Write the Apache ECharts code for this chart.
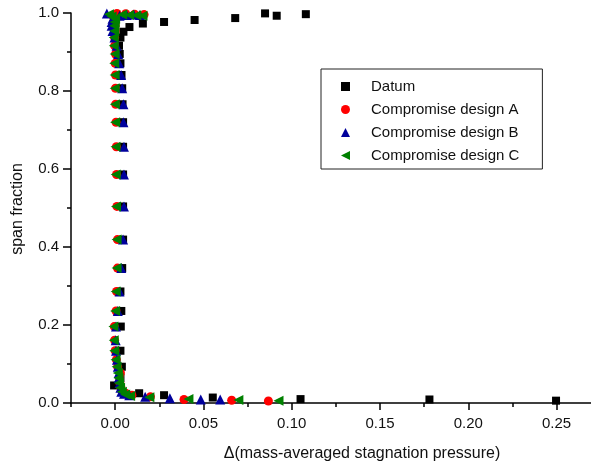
<!DOCTYPE html>
<html>
<head>
<meta charset="utf-8">
<title>Spanwise stagnation pressure difference</title>
<script src="https://cdn.jsdelivr.net/npm/echarts@6/dist/echarts.min.js"></script>
<style>
  html, body { margin: 0; padding: 0; background: #fff; }
  #chart { width: 591px; height: 467px; }
</style>
</head>
<body>
<div id="chart"></div>
<script>
// Spanwise profiles: span fraction vs. change in mass-averaged stagnation pressure
const seriesNames = ['Datum', 'Compromise design A', 'Compromise design B', 'Compromise design C'];

const datumSpan = [0.006, 0.009, 0.010, 0.014, 0.020, 0.025, 0.045, 0.064, 0.093, 0.134, 0.196, 0.236,
  0.286, 0.346, 0.419, 0.504, 0.586, 0.657, 0.720, 0.766, 0.807, 0.841, 0.871, 0.895, 0.916, 0.937,
  0.952, 0.964, 0.973, 0.977, 0.982, 0.987, 0.999, 0.993, 0.997];
const datumDelta = [0.2497, 0.178, 0.105, 0.0553, 0.0277, 0.0136, -0.0006, 0.0030, 0.0038, 0.0030, 0.0032, 0.0035,
  0.0030, 0.0040, 0.0045, 0.0045, 0.0045, 0.0045, 0.0045, 0.0042, 0.0040, 0.0036, 0.0030, 0.0026, 0.0022, 0.0030,
  0.0047, 0.0081, 0.0157, 0.0277, 0.0450, 0.0680, 0.0849, 0.0915, 0.1080];

const designASpan = [0.005, 0.007, 0.009, 0.016, 0.020, 0.025, 0.029, 0.039, 0.051, 0.064, 0.077, 0.093,
  0.111, 0.134, 0.161, 0.196, 0.236, 0.286, 0.346, 0.419, 0.504, 0.586, 0.657, 0.720, 0.766, 0.807,
  0.841, 0.871, 0.895, 0.916, 0.937, 0.954, 0.967, 0.977, 0.985, 0.991, 0.999, 0.998, 0.997, 0.996];
const designADelta = [0.0868, 0.0660, 0.0390, 0.0200, 0.0095, 0.0060, 0.0042, 0.0033, 0.0027, 0.0025, 0.0030, 0.0014,
  0.0007, 0.0000, -0.0003, -0.0005, 0.0005, 0.0008, 0.0013, 0.0013, 0.0010, 0.0008, 0.0007, 0.0005, 0.0003, 0.0002,
  0.0002, 0.0000, 0.0002, -0.0003, -0.0003, 0.0000, 0.0000, 0.0002, 0.0005, -0.0010, 0.0010, 0.0060, 0.0110, 0.0164];

const designBSpan = [0.009, 0.009, 0.012, 0.016, 0.020, 0.024, 0.029, 0.039, 0.051, 0.064, 0.077, 0.093,
  0.111, 0.134, 0.161, 0.196, 0.236, 0.286, 0.346, 0.419, 0.504, 0.586, 0.657, 0.720, 0.766, 0.807,
  0.841, 0.871, 0.895, 0.916, 0.937, 0.954, 0.967, 0.977, 0.985, 0.999, 0.993, 0.995, 0.996, 0.995];
const designBDelta = [0.0595, 0.0485, 0.0310, 0.0170, 0.0080, 0.0050, 0.0035, 0.0030, 0.0025, 0.0020, 0.0020, 0.0015,
  0.0010, 0.0005, 0.0003, 0.0005, 0.0015, 0.0025, 0.0035, 0.0045, 0.0050, 0.0050, 0.0050, 0.0047, 0.0047, 0.0040,
  0.0034, 0.0023, 0.0017, 0.0008, -0.0004, -0.0015, -0.0020, -0.0020, -0.0015, -0.0047, 0.0025, 0.0065, 0.0105, 0.0140];

const designCSpan = [0.006, 0.008, 0.010, 0.0145, 0.018, 0.022, 0.029, 0.039, 0.051, 0.064, 0.077, 0.093,
  0.111, 0.134, 0.161, 0.196, 0.236, 0.286, 0.346, 0.419, 0.504, 0.586, 0.657, 0.720, 0.766, 0.807,
  0.841, 0.871, 0.895, 0.916, 0.937, 0.954, 0.967, 0.977, 0.985, 0.991, 0.997, 0.996, 0.995, 0.994, 0.993];
const designCDelta = [0.0925, 0.0698, 0.0415, 0.0194, 0.0085, 0.0057, 0.0038, 0.0028, 0.0022, 0.0019, 0.0015, 0.0008,
  0.0002, -0.0005, -0.0008, -0.0010, 0.0000, 0.0003, 0.0008, 0.0008, 0.0005, 0.0003, 0.0002, 0.0000, -0.0002, -0.0003,
  -0.0003, -0.0005, -0.0003, -0.0008, -0.0008, -0.0005, -0.0005, -0.0003, 0.0000, -0.0020, -0.0035, 0.0040, 0.0080, 0.0120, 0.0155];

const xMajorTicks = [0.00, 0.05, 0.10, 0.15, 0.20, 0.25];
const xMinorTicks = [-0.025, 0.025, 0.075, 0.125, 0.175, 0.225];

const pairs = (delta, span) => span.map((s, i) => [delta[i], s]);

const FONT = 'Liberation Sans, Arial, sans-serif';
// left-pointing triangle used for design C in the legend
const LEFT_TRIANGLE = 'path://M0,5L10,0L10,10Z';

const chart = echarts.init(document.getElementById('chart'), null, { renderer: 'canvas' });

function scatter(name, delta, span, symbol, size, color, rotate) {
  return {
    name: name,
    type: 'scatter',
    xAxisIndex: 0,
    yAxisIndex: 0,
    data: pairs(delta, span),
    symbol: symbol,
    symbolSize: size,
    symbolRotate: rotate || 0,
    clip: false,
    itemStyle: { color: color, opacity: 1 },
    emphasis: { disabled: true },
    animation: false
  };
}

chart.setOption({
  animation: false,
  backgroundColor: '#ffffff',
  textStyle: { fontFamily: FONT },
  grid: { left: 71, right: 0, top: 13, bottom: 64 },
  xAxis: [
    {
      type: 'value',
      min: -0.025,
      max: 0.2695,
      axisLine: { show: true, onZero: false, lineStyle: { color: '#000', width: 1.5 } },
      axisTick: { show: true, inside: false, length: 7, customValues: xMajorTicks, lineStyle: { color: '#000', width: 1.5 } },
      axisLabel: {
        show: true, customValues: xMajorTicks, margin: 13,
        color: '#111', fontSize: 15, fontFamily: FONT,
        formatter: v => v.toFixed(2)
      },
      splitLine: { show: false }
    },
    {
      type: 'value',
      position: 'bottom',
      min: -0.025,
      max: 0.2695,
      axisLine: { show: false },
      axisTick: { show: true, inside: false, length: 4, customValues: xMinorTicks, lineStyle: { color: '#000', width: 1.5 } },
      axisLabel: { show: false },
      splitLine: { show: false }
    }
  ],
  yAxis: {
    type: 'value',
    min: 0,
    max: 1.0,
    interval: 0.2,
    axisLine: { show: true, onZero: false, lineStyle: { color: '#000', width: 1.5 } },
    axisTick: { show: true, inside: false, length: 8, lineStyle: { color: '#000', width: 1.5 } },
    minorTick: { show: true, splitNumber: 2, length: 4, lineStyle: { color: '#000', width: 1.5 } },
    axisLabel: { margin: 12, color: '#111', fontSize: 15, fontFamily: FONT, formatter: v => v.toFixed(1) },
    splitLine: { show: false }
  },
  legend: {
    orient: 'vertical',
    left: 321,
    top: 69,
    padding: [10, 23, 6, 20],
    itemWidth: 9,
    itemHeight: 9,
    itemGap: 8,
    borderColor: '#222',
    borderWidth: 1,
    backgroundColor: '#fff',
    selectedMode: false,
    textStyle: { fontSize: 15, fontFamily: FONT, color: '#111', lineHeight: 15, padding: [0, 0, 0, 16] },
    data: [
      { name: seriesNames[0] },
      { name: seriesNames[1] },
      { name: seriesNames[2] },
      { name: seriesNames[3], icon: LEFT_TRIANGLE }
    ]
  },
  graphic: [
    {
      type: 'text',
      x: 362, y: 454,
      style: {
        text: 'Δ(mass-averaged stagnation pressure)',
        font: '16px ' + FONT, fill: '#111', align: 'center', verticalAlign: 'middle'
      }
    },
    {
      type: 'text',
      x: 18, y: 209,
      rotation: Math.PI / 2,
      style: {
        text: 'span fraction',
        font: '16px ' + FONT, fill: '#111', align: 'center', verticalAlign: 'middle'
      }
    }
  ],
  series: [
    scatter(seriesNames[0], datumDelta, datumSpan, 'rect', 8, '#000000'),
    scatter(seriesNames[1], designADelta, designASpan, 'circle', 9, '#ff0000'),
    scatter(seriesNames[2], designBDelta, designBSpan, 'triangle', 10, '#00009c'),
    scatter(seriesNames[3], designCDelta, designCSpan, 'triangle', 10, '#008000', 90)
  ]
});
</script>
</body>
</html>
